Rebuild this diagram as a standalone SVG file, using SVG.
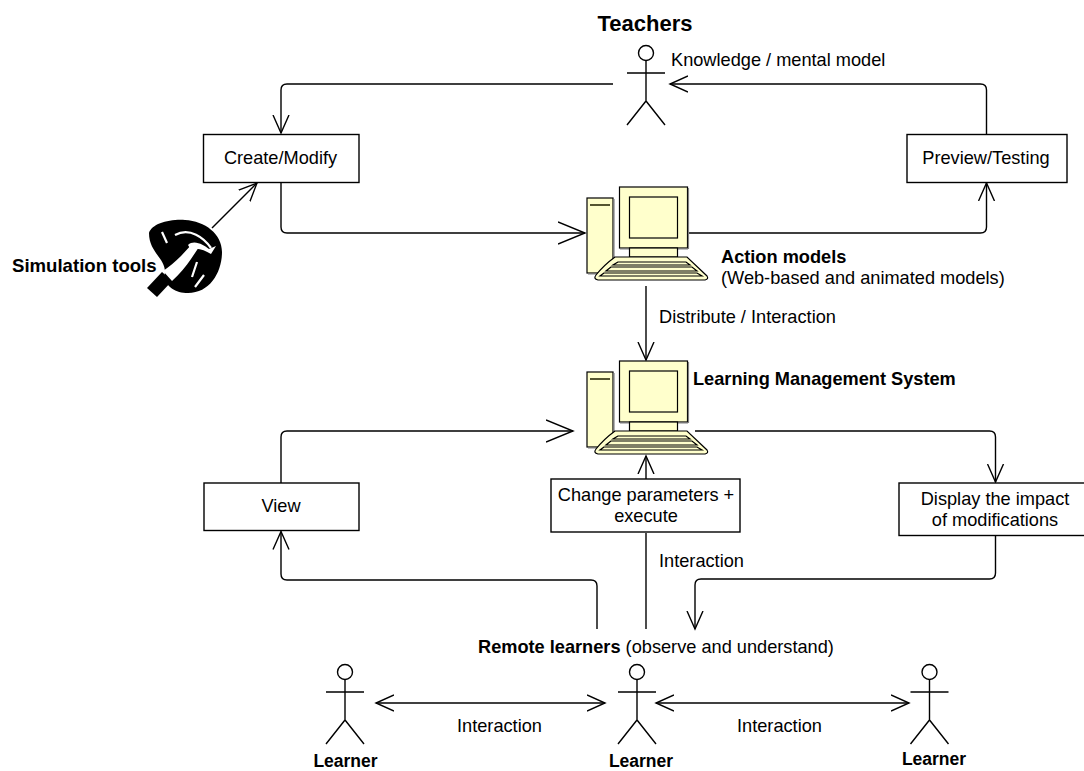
<svg xmlns="http://www.w3.org/2000/svg" width="1084" height="771" viewBox="0 0 1084 771">
<defs>
<style>
text{font-family:"Liberation Sans",Arial,sans-serif;font-size:18.2px;fill:#000}
.b{font-weight:bold}
.m{text-anchor:middle}
.box{fill:#fff;stroke:#000;stroke-width:1.4}
.ln{fill:none;stroke:#000;stroke-width:1.4}
.pc{fill:#ffffcc;stroke:#000;stroke-width:1.2}
.sh{fill:none;stroke:#808080;stroke-width:1.2}
</style>
<marker id="a" markerUnits="userSpaceOnUse" markerWidth="20" markerHeight="18" refX="18" refY="9" orient="auto-start-reverse" viewBox="0 0 20 18">
<path d="M0 1L18 9L0 17" fill="none" stroke="#000" stroke-width="1.4"/>
</marker>
<marker id="c" markerUnits="userSpaceOnUse" markerWidth="29" markerHeight="24" refX="27" refY="12" orient="auto" viewBox="0 0 29 24">
<path d="M0 1L27 12L0 23" fill="none" stroke="#000" stroke-width="1.4"/>
</marker>
<g id="actor" class="ln">
<circle cx="0" cy="-20" r="7.500"/>
<path d="M0 -12.500V28M-19 0H19M-19 52L0 28L19 52"/>
</g>
<g id="pc">
<rect x="587" y="28" width="26" height="75" class="pc"/>
<path d="M614 29V104M588 104H613" class="sh"/>
<path d="M590 35H610" stroke="#555530" stroke-width="2"/>
<rect x="619.500" y="17" width="68" height="61" class="pc"/>
<path d="M688.500 18V79M620 79H688" class="sh"/>
<rect x="629.500" y="27" width="48" height="41" class="pc"/>
<rect x="629.500" y="78" width="48" height="9" class="pc"/>
<path d="M615 87H687L707 106Q709 109 705 110H598Q593 109 596 105Q604 95 615 87Z" class="pc"/>
<path d="M618 92L613 95H690L686 92ZM611 97L606 101H697L692 97ZM604 103L600 106H702L697 103Z" class="pc" stroke-width="1"/>
</g>
</defs>
<g id="connectors">
<path class="ln" marker-end="url(#a)" d="M613 84H287Q281 84 281 90V133"/>
<path class="ln" marker-end="url(#c)" d="M281 183V227Q281 233 287 233H585"/>
<path class="ln" marker-end="url(#a)" d="M212 228L257 183"/>
<path class="ln" marker-end="url(#a)" d="M986.500 134V90Q986.500 84 980.500 84H670"/>
<path class="ln" marker-end="url(#a)" d="M687 233H980.500Q986.500 233 986.500 227V183"/>
<path class="ln" marker-end="url(#a)" d="M646 286V360"/>
<path class="ln" marker-end="url(#c)" d="M281 483V437Q281 431 287 431H573"/>
<path class="ln" marker-end="url(#a)" d="M597 629V586Q597 580 591 580H287Q281 580 281 574V531.500"/>
<path class="ln" marker-end="url(#a)" d="M646 479V456"/>
<path class="ln" d="M646 533V629"/>
<path class="ln" marker-end="url(#a)" d="M695 431H989.500Q995.500 431 995.500 437V482"/>
<path class="ln" marker-end="url(#a)" d="M995.500 536V573Q995.500 579 989.500 579H701Q695 579 695 585V629"/>
<path class="ln" marker-start="url(#a)" marker-end="url(#a)" d="M376 703H605"/>
<path class="ln" marker-start="url(#a)" marker-end="url(#a)" d="M656 703H909"/>
</g>
<g id="teacher"><use href="#actor" x="646" y="73"/><text x="645" y="31" class="b m" style="font-size:22px">Teachers</text></g>
<g id="create"><rect x="203.500" y="134.500" width="155.500" height="48" class="box"/><text x="280.500" y="164" class="m">Create/Modify</text></g>
<g id="preview"><rect x="907" y="134.500" width="160" height="48" class="box"/><text x="986" y="164" class="m">Preview/Testing</text></g>
<g id="view"><rect x="204" y="483" width="155" height="47.500" class="box"/><text x="281" y="512" class="m">View</text></g>
<g id="change"><rect x="551" y="479" width="189" height="53" class="box"/><text x="646" y="501" class="m">Change parameters +</text><text x="646" y="522" class="m">execute</text></g>
<g id="display"><rect x="899" y="483" width="195" height="52.500" class="box"/><text x="995" y="505" class="m">Display the impact</text><text x="995" y="526" class="m">of modifications</text></g>
<g id="action"><use href="#pc" x="0" y="170"/><text x="721" y="263" class="b">Action models</text><text x="721" y="284">(Web-based and animated models)</text></g>
<g id="lms"><use href="#pc" x="0" y="344"/><text x="693" y="385" class="b">Learning Management System</text></g>
<g id="tools">
<path d="M149 233C152 224 168 219 185 220C205 221 222 234 222 252C222 272 210 293 188 293C175 293 163 286 165 272C165 258 149 252 149 233Z" fill="#000"/>
<path d="M147 288L157 297L172 281L162 272Z" fill="#000"/>
<path d="M163 271L172 281C180 274 186 266 191 259L199 247L193 243L181 256C175 262 169 267 163 271Z" fill="#fff"/>
<path d="M175 235C190 227 204 238 211 248" fill="none" stroke="#fff" stroke-width="2.200"/>
<path d="M188 245C194 239 204 245 209 249L216 246L211 254C204 250 197 247 191 250Z" fill="#fff"/>
<path d="M162 232L167 243M197 262L192 277M204 275L195 287" stroke="#fff" stroke-width="2.200"/>
<text x="12" y="272" class="b" style="font-size:18.600px">Simulation tools</text>
</g>
<g id="learner1"><use href="#actor" x="345" y="692"/><text x="345.500" y="767" class="b m" style="font-size:17.500px">Learner</text></g>
<g id="learner2"><use href="#actor" x="637" y="692"/><text x="641" y="767" class="b m" style="font-size:17.500px">Learner</text></g>
<g id="learner3"><use href="#actor" x="929.500" y="692"/><text x="934" y="765" class="b m" style="font-size:17.500px">Learner</text></g>
<g id="labels">
<text x="671" y="66">Knowledge / mental model</text>
<text x="659" y="323">Distribute / Interaction</text>
<text x="659" y="567">Interaction</text>
<text x="457" y="732">Interaction</text>
<text x="737" y="732">Interaction</text>
<text x="478" y="653"><tspan class="b">Remote learners</tspan> (observe and understand)</text>
</g>
</svg>
